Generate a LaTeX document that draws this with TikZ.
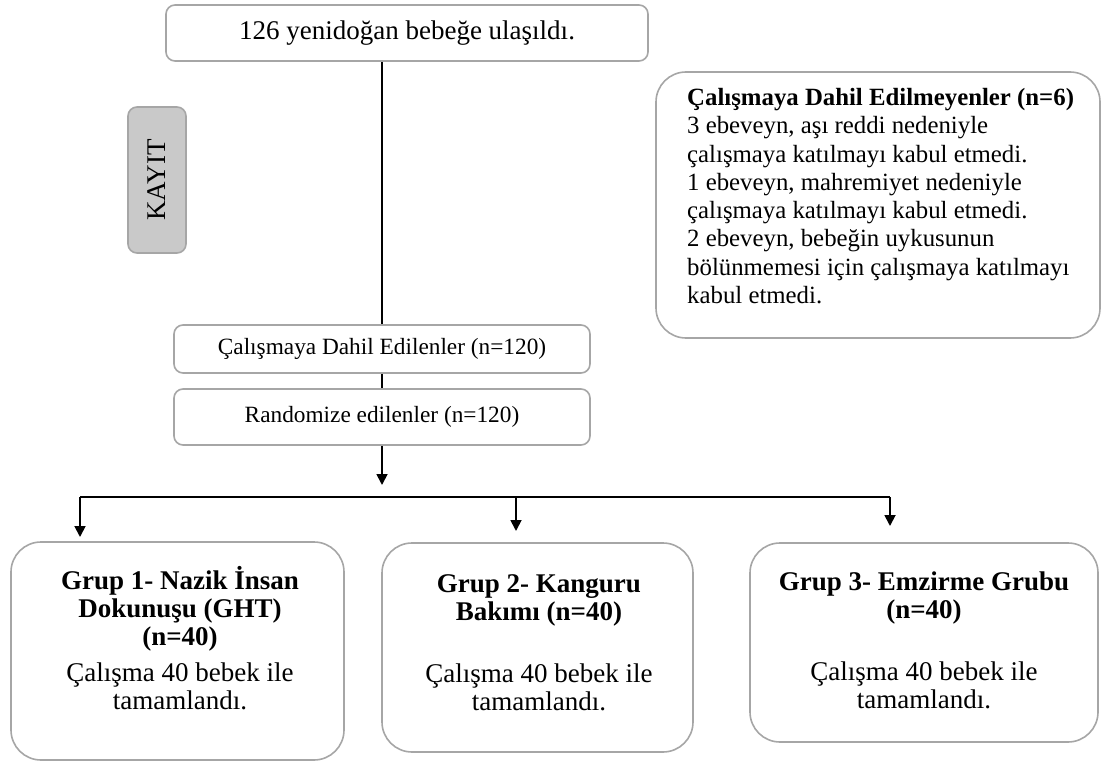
\documentclass[tikz,border=0pt]{standalone}
\usepackage{fontspec}
\setmainfont{Liberation Serif}
\usetikzlibrary{arrows.meta}
\definecolor{bordergray}{HTML}{A6A6A6}
\definecolor{kayitgray}{HTML}{C9C9C9}
\tikzset{
  box/.style={draw=bordergray, line width=1.6pt, fill=white, rounded corners=9pt, inner sep=0pt},
  bigbox/.style={draw=bordergray, line width=1.6pt, fill=white, rounded corners=30pt, inner sep=0pt},
  conn/.style={draw=black, line width=1.8pt},
  arr/.style={conn, -{Triangle[length=11pt,width=11pt]}},
  txt/.style={font=\fontsize{23.3}{28}\selectfont, inner sep=0pt},
  etxt/.style={font=\fontsize{24.8}{28.3}\selectfont, inner sep=0pt},
  gtxt/.style={font=\fontsize{27}{28}\selectfont, inner sep=0pt, align=center}
}
\begin{document}
\begin{tikzpicture}[x=1pt,y=-1pt]
\useasboundingbox (0,0) rectangle (1108,762);
% top
\node[box, minimum width=482pt, minimum height=56pt, font=\fontsize{27}{30}\selectfont] (top) at (407,33) {126 yenidoğan bebeğe ulaşıldı.};
% KAYIT
\node[box, fill=kayitgray, rotate=90, minimum width=146pt, minimum height=58pt, font=\fontsize{27}{30}\selectfont] (kayit) at (157,180) {KAYIT};
% exclusion
\node[bigbox, minimum width=444pt, minimum height=266pt] (excl) at (878,205) {};
\node[etxt, anchor=north west, align=left] (excltxt) at (687,88) {\textbf{Çalışmaya Dahil Edilmeyenler (n=6)}\\
3 ebeveyn, aşı reddi nedeniyle\\
çalışmaya katılmayı kabul etmedi.\\
1 ebeveyn, mahremiyet nedeniyle\\
çalışmaya katılmayı kabul etmedi.\\
2 ebeveyn, bebeğin uykusunun\\
bölünmemesi için çalışmaya katılmayı\\
kabul etmedi.};
% included
\node[box, txt, minimum width=416pt, minimum height=48pt] (dahil) at (382,349) {Çalışmaya Dahil Edilenler (n=120)};
\node[box, txt, minimum width=416pt, minimum height=56pt] (rand) at (382,417) {Randomize edilenler (n=120)};
% groups
\node[bigbox, minimum width=333pt, minimum height=218pt] (g1) at (177.5,651) {};
\node[gtxt, anchor=north] (g1t) at (180,566.5) {\textbf{Grup 1- Nazik İnsan}\\ \textbf{Dokunuşu (GHT)}\\ \textbf{(n=40)}\\[8pt] Çalışma 40 bebek ile\\ tamamlandı.};
\node[bigbox, minimum width=311pt, minimum height=209pt] (g2) at (537.5,647.5) {};
\node[gtxt, anchor=north] (g2t) at (539,574) {\textbf{Grup 2- Kanguru}\\ \textbf{Bakımı (n=40)}\\[34pt] Çalışma 40 bebek ile\\ tamamlandı.};
\node[bigbox, minimum width=348pt, minimum height=199pt] (g3) at (924,642.5) {};
\node[gtxt, anchor=north] (g3t) at (924,572) {\textbf{Grup 3- Emzirme Grubu}\\ \textbf{(n=40)}\\[34pt] Çalışma 40 bebek ile\\ tamamlandı.};
% connectors
\draw[conn] (top.south -| dahil.north) -- (dahil.north);
\draw[conn] (dahil.south) -- (rand.north);
\coordinate (split) at (382,485);
\draw[arr] (rand.south) -- (split);
\coordinate (hl) at (80,497);
\coordinate (hr) at (890,497);
\coordinate (a1) at (80,537);
\coordinate (a2) at (516,531);
\coordinate (a3) at (890,526);
\draw[conn] (hl) -- (hr);
\draw[arr] (hl) -- (a1);
\draw[arr] (hl -| a2) -- (a2);
\draw[arr] (hr) -- (a3);
\end{tikzpicture}
\end{document}
